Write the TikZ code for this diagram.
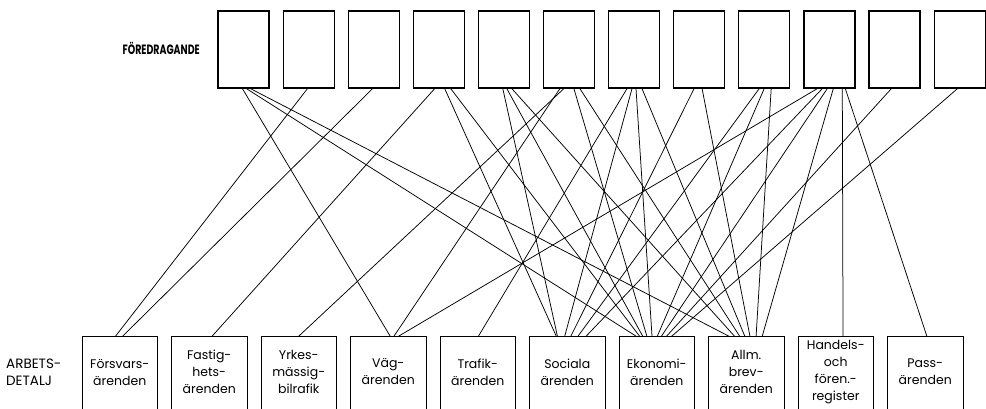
\documentclass[tikz,border=0pt]{standalone}
\usepackage{fontspec}
\setmainfont{Poppins}
\newfontfamily\headfont[FakeStretch=0.7]{Poppins}
\newcommand{\lk}[4]{\draw[link] ([xshift=#2pt]t#1.south west) -- ([xshift=#4pt]b#3.north west);}
\begin{document}
\begin{tikzpicture}[x=1pt,y=-1pt,
  topbox/.style={draw, line width=1.2pt, minimum width=51pt, minimum height=77pt, inner sep=0pt},
  botbox/.style={draw=none, minimum width=75pt, minimum height=70pt, inner sep=0pt, align=center, font=\fontsize{12.5}{17}\selectfont},
  side/.style={line width=0.9pt},
  link/.style={line width=0.75pt},
  lab/.style={inner sep=0pt, font=\fontsize{13.5}{17}\selectfont}]
\useasboundingbox[fill=white] (0,0) rectangle (986,408);
\foreach \i in {1,...,12} \node[topbox] (t\i) at ({243.5+65.1*(\i-1)},49.5) {};
\node[lab, anchor=east, font=\headfont\bfseries\fontsize{13.5}{15}\selectfont] (head) at (200,48) {FÖREDRAGANDE};
\node[lab, anchor=west, align=left] (arb) at (6,372) {ARBETS-\\DETALJ};
\node[botbox] (b1) at (119.75,372) {Försvars-\\ärenden};
\node[botbox] (b2) at (209.25,372) {Fastig-\\hets-\\ärenden};
\node[botbox] (b3) at (298.75,372) {Yrkes-\\mässig-\\bilrafik};
\node[botbox] (b4) at (388.25,372) {Väg-\\ärenden};
\node[botbox] (b5) at (477.75,372) {Trafik-\\ärenden};
\node[botbox] (b6) at (567.25,372) {Sociala\\ärenden};
\node[botbox] (b7) at (656.75,372) {Ekonomi-\\ärenden};
\node[botbox] (b8) at (746.25,372) {Allm.\\brev-\\ärenden};
\node[botbox] (b9) at (835.75,372) {Handels-\\och\\fören.-\\register};
\node[botbox] (b10) at (925.25,372) {Pass-\\ärenden};
\foreach \i in {1,...,10} \draw[side] ([yshift=-10pt]b\i.south west) -- (b\i.north west) -- (b\i.north east) -- ([yshift=-10pt]b\i.south east);
% T1
\lk{1}{25}{4}{40}
\lk{1}{29}{7}{18}
\lk{1}{33}{8}{21.5}
% T2, T3
\lk{2}{25}{1}{33}
\lk{3}{25}{1}{40}
% T4
\lk{4}{22}{2}{40}
\lk{4}{32}{6}{27}
\lk{4}{38}{7}{21}
% T5
\lk{5}{25}{6}{28}
\lk{5}{29}{7}{24}
\lk{5}{34}{8}{26.5}
% T6
\lk{6}{17}{4}{43}
\lk{6}{21}{3}{37}
\lk{6}{31}{7}{28}
\lk{6}{37}{8}{31.5}
% T7
\lk{7}{19}{5}{38}
\lk{7}{24}{6}{35}
\lk{7}{28}{7}{33}
\lk{7}{34}{8}{36.5}
% T8
\lk{8}{21}{6}{41}
\lk{8}{29}{8}{41.5}
% T9
\lk{9}{21}{6}{48}
\lk{9}{26}{7}{38}
\lk{9}{33}{8}{47.5}
% T10
\lk{10}{14}{4}{47}
\lk{10}{19}{6}{56}
\lk{10}{24}{7}{42}
\lk{10}{30}{8}{53.5}
\lk{10}{39}{9}{45}
\lk{10}{42}{10}{39.5}
% T11, T12
\lk{11}{23}{7}{47}
\lk{12}{24}{7}{52}
\end{tikzpicture}
\end{document}
